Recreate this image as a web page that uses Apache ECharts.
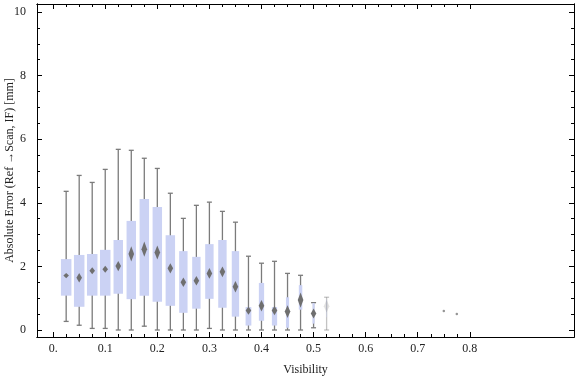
<!DOCTYPE html>
<html>
<head>
    <meta charset="utf-8">
    <title>Box whisker</title>
    <script src="https://cdn.jsdelivr.net/npm/echarts@6/dist/echarts.min.js"></script>
    <style>
        html, body { margin: 0; padding: 0; background: #fff; }
        #main { width: 576px; height: 377px; }
    </style>
</head>
<body>
<div id="main"></div>
<script>
    // x positions of the boxes
    var visibility = [0.025, 0.05, 0.075, 0.1, 0.125, 0.15, 0.175, 0.2, 0.225, 0.25, 0.275,
        0.3, 0.325, 0.35, 0.375, 0.4, 0.425, 0.45, 0.475, 0.5, 0.525];
    var whiskerHigh = [4.36, 4.86, 4.64, 5.05, 5.68, 5.65, 5.40, 5.08, 4.30, 3.51, 3.92,
        4.02, 3.73, 3.39, 2.32, 2.10, 2.16, 1.78, 1.72, 0.86, 1.03];
    var q3 = [2.23, 2.36, 2.39, 2.52, 2.83, 3.43, 4.12, 3.87, 2.98, 2.48, 2.30,
        2.70, 2.83, 2.48, 0.72, 1.48, 0.72, 1.03, 1.41, 0.85, 0.95];
    var median = [1.71, 1.64, 1.86, 1.91, 2.01, 2.39, 2.54, 2.44, 1.94, 1.50, 1.55,
        1.78, 1.83, 1.36, 0.61, 0.76, 0.61, 0.58, 0.94, 0.52, 0.75];
    var q1 = [1.08, 0.73, 1.08, 1.08, 1.14, 0.97, 1.08, 0.89, 0.76, 0.54, 0.67,
        0.98, 0.70, 0.42, 0.14, 0.29, 0.14, 0.07, 0.64, 0.20, 0.40];
    var whiskerLow = [0.27, 0.15, 0.05, 0.05, 0, 0, 0.12, 0, 0, 0, 0,
        0.05, 0, 0, 0, 0, 0, 0, 0, 0.07, 0];
    // spread of the median diamond (+/-)
    var medianSpread = [0.08, 0.15, 0.11, 0.11, 0.16, 0.24, 0.24, 0.22, 0.16, 0.15, 0.15,
        0.17, 0.17, 0.18, 0.13, 0.18, 0.15, 0.20, 0.24, 0.16, 0.20];
    // relative sample weight (drives box width)
    var boxWeight = [1, 1, 1, 1, 0.9, 0.9, 0.9, 0.9, 0.9, 0.8, 0.8,
        0.8, 0.8, 0.7, 0.55, 0.5, 0.5, 0.3, 0.33, 0.2, 0.05];
    // single points far right
    var outlierX = [0.75, 0.775];
    var outlierY = [0.60, 0.50];

    var xMajor = [0, 0.1, 0.2, 0.3, 0.4, 0.5, 0.6, 0.7, 0.8];
    var yMajor = [0, 2, 4, 6, 8, 10];

    var xMinor = [];
    for (var i = 0; i <= 32; i++) xMinor.push(+(i * 0.025).toFixed(3));
    var yMinor = [];
    for (var j = 0; j <= 20; j++) yMinor.push(j * 0.5);

    var font = 'Liberation Serif';
    var lineCol = '#000';

    function xAxisDef(pos, ticks, len, labels) {
        return {
            type: 'value', position: pos, min: -0.031, max: 1.0,
            splitLine: { show: false },
            axisLine: { show: true, onZero: false, lineStyle: { color: lineCol, width: 1 } },
            axisTick: { show: true, inside: true, length: len, customValues: ticks,
                lineStyle: { color: lineCol, width: 1 } },
            axisLabel: { show: labels, customValues: xMajor, margin: 6, color: '#222',
                fontFamily: font, fontSize: 12,
                formatter: function (v) { return v === 0 ? '0.' : v.toFixed(1); } }
        };
    }
    function yAxisDef(pos, ticks, len, labels) {
        return {
            type: 'value', position: pos, min: -0.22, max: 10.25,
            splitLine: { show: false },
            axisLine: { show: true, onZero: false, lineStyle: { color: lineCol, width: 1 } },
            axisTick: { show: true, inside: true, length: len, customValues: ticks,
                lineStyle: { color: lineCol, width: 1 } },
            axisLabel: { show: labels, customValues: yMajor, margin: 11, color: '#222',
                fontFamily: font, fontSize: 12 }
        };
    }

    var xAxes = [xAxisDef('bottom', xMajor, 5, true), xAxisDef('bottom', xMinor, 3, false),
        xAxisDef('top', xMajor, 5, false), xAxisDef('top', xMinor, 3, false)];
    xAxes[0].name = 'Visibility';
    xAxes[0].nameLocation = 'middle';
    xAxes[0].nameGap = 27;
    xAxes[0].nameMoveOverlap = false;
    xAxes[0].nameTextStyle = { fontFamily: font, fontSize: 12, color: '#222' };

    var yAxes = [yAxisDef('left', yMajor, 5, true), yAxisDef('left', yMinor, 3, false),
        yAxisDef('right', yMajor, 5, false), yAxisDef('right', yMinor, 3, false)];
    yAxes[0].name = 'Absolute Error (Ref \u2192Scan, IF) [mm]';
    yAxes[0].nameLocation = 'middle';
    yAxes[0].nameGap = 21;
    yAxes[0].nameMoveOverlap = false;
    yAxes[0].nameTextStyle = { fontFamily: font, fontSize: 12, color: '#222' };

    function renderBox(params, api) {
        var k = api.value(1);
        var x = api.value(0);
        var top = api.coord([x, whiskerHigh[k]]);
        var bot = api.coord([x, whiskerLow[k]]);
        var b3 = api.coord([x, q3[k]]);
        var b1 = api.coord([x, q1[k]]);
        var m = api.coord([x, median[k]]);
        var mt = api.coord([x, median[k] + medianSpread[k]]);
        var mb = api.coord([x, median[k] - medianSpread[k]]);
        var cx = top[0];
        var w = Math.max(boxWeight[k] * 10.5, 1);
        var fade = k === 20 ? 0.45 : 1;
        var ln = { stroke: '#7b7b7b', lineWidth: 1.3, opacity: fade };
        return {
            type: 'group',
            children: [
                { type: 'line', shape: { x1: cx, y1: top[1], x2: cx, y2: bot[1] }, style: ln },
                { type: 'line', shape: { x1: cx - 2.5, y1: top[1], x2: cx + 2.5, y2: top[1] }, style: ln },
                { type: 'line', shape: { x1: cx - 2.5, y1: bot[1], x2: cx + 2.5, y2: bot[1] }, style: ln },
                { type: 'rect', shape: { x: cx - w / 2, y: b3[1], width: w, height: b1[1] - b3[1] },
                    style: { fill: '#cbd2f4', opacity: fade } },
                { type: 'polygon', shape: { points: [[cx, mt[1]], [cx + 2.8, m[1]], [cx, mb[1]], [cx - 2.8, m[1]]] },
                    style: { fill: '#6f6f6f', opacity: k === 20 ? 0.2 : 1 } }
            ]
        };
    }

    var chart = echarts.init(document.getElementById('main'));
    chart.setOption({
        animation: false,
        grid: { left: 37, right: 2, top: 4, bottom: 40, outerBoundsMode: 'none' },
        xAxis: xAxes,
        yAxis: yAxes,
        series: [
            {
                type: 'custom',
                renderItem: renderBox,
                xAxisIndex: 0, yAxisIndex: 0,
                encode: { x: 0 },
                data: visibility.map(function (v, i) { return [v, i]; }),
                clip: false
            },
            {
                type: 'scatter',
                xAxisIndex: 0, yAxisIndex: 0,
                symbolSize: 2.5,
                itemStyle: { color: '#7b7b7b' },
                data: outlierX.map(function (v, i) { return [v, outlierY[i]]; })
            }
        ]
    });
</script>
</body>
</html>
